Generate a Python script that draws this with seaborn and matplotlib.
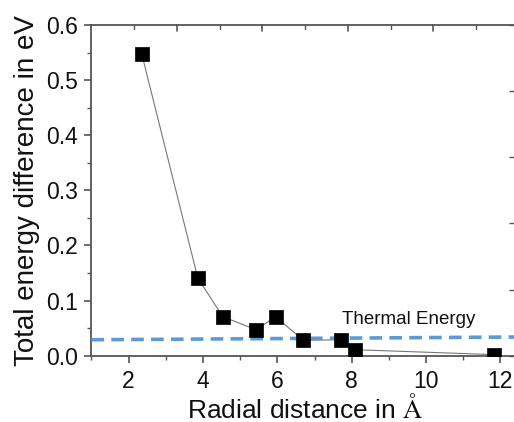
import matplotlib
matplotlib.use("Agg")
import matplotlib.pyplot as plt
import seaborn as sns
import pandas as pd
from matplotlib.ticker import MultipleLocator, NullFormatter

# ---- data ----
radial_distance = [2.35, 3.86, 4.53, 5.43, 5.95, 6.70, 7.70, 8.08, 11.84]
energy_diff = [0.548, 0.141, 0.071, 0.047, 0.071, 0.028, 0.029, 0.011, 0.002]
thermal_x = [1.0, 12.5]
thermal_y = [0.029, 0.034]
thermal_label = "Thermal Energy"
x_ticks = [2, 4, 6, 8, 10, 12]
y_ticks = [0.0, 0.1, 0.2, 0.3, 0.4, 0.5, 0.6]
top_major = [2, 4, 6, 8]
top_minor = [1, 3, 5, 7, 9]

df = pd.DataFrame({"r": radial_distance, "e": energy_diff})
thermal_df = pd.DataFrame({"x": thermal_x, "y": thermal_y})

sns.set_style("ticks")
plt.rcParams["font.family"] = ["Liberation Sans", "DejaVu Sans"]
plt.rcParams["mathtext.fontset"] = "stix"

fig = plt.figure(figsize=(5.14, 4.22), dpi=100)
rect = [0.178, 0.157, 1.0097 - 0.178, 0.9408 - 0.157]
ax = fig.add_axes(rect)

spine_color = "#555555"
XMIN, XMAX = 1.0, 12.5
YMIN, YMAX = 0.0, 0.6

sns.lineplot(data=df, x="r", y="e", sort=False, color="#777777", linewidth=0.8, ax=ax, zorder=2)
sns.lineplot(data=thermal_df, x="x", y="y", color="#5B9BD5", linewidth=2.6,
             linestyle=(0, (3.5, 2.0)), ax=ax, zorder=3)
sns.scatterplot(data=df, x="r", y="e", marker="s", s=115, color="black",
                edgecolor="black", linewidth=0.5, ax=ax, zorder=4)

ax.text(7.73, 0.058, thermal_label, fontsize=13.5, color="#111111", va="baseline", ha="left")

ax.set_xlim(XMIN, XMAX)
ax.set_ylim(YMIN, YMAX)
ax.set_xticks(x_ticks)
ax.set_yticks(y_ticks)
ax.set_yticklabels([f"{v:.1f}" for v in y_ticks])
ax.xaxis.set_minor_locator(MultipleLocator(1))
ax.yaxis.set_minor_locator(MultipleLocator(0.05))
ax.tick_params(axis="both", which="major", direction="out", length=5, width=1.2,
               color=spine_color, labelsize=16.5, pad=5, labelcolor="#111111")
ax.tick_params(axis="both", which="minor", direction="out", length=3, width=1.0, color=spine_color)

ax.set_xlabel("Radial distance in $\\mathrm{\\AA}$", fontsize=19, color="#111111", labelpad=1)
ax.set_ylabel("Total energy difference in eV", fontsize=20, color="#111111", labelpad=4)

for sp in ax.spines.values():
    sp.set_color(spine_color)
    sp.set_linewidth(1.3)

# top decorative ticks (inward), on a 0-10 scale spanning the top frame
def top_to_data(t):
    return XMIN + t / 10.0 * (XMAX - XMIN)

for t in top_major:
    ax.axvline(top_to_data(t), ymin=1 - 0.019, ymax=1.0, color=spine_color,
               linewidth=1.2, clip_on=False, zorder=5)
for t in top_minor:
    ax.axvline(top_to_data(t), ymin=1 - 0.011, ymax=1.0, color=spine_color,
               linewidth=1.0, clip_on=False, zorder=5)

# right decorative axis
right = ax.secondary_yaxis(
    "right",
    functions=(lambda y: (y - YMIN) / (YMAX - YMIN) * 5.0,
               lambda t: YMIN + t / 5.0 * (YMAX - YMIN)))
right.yaxis.set_ticks_position("right")
right.yaxis.set_major_locator(MultipleLocator(1))
right.yaxis.set_major_formatter(NullFormatter())
right.tick_params(axis="y", which="major", right=True, left=False, labelright=False,
                  direction="in", length=7, width=1.0, color=spine_color)
for sp in right.spines.values():
    sp.set_color(spine_color)
    sp.set_linewidth(1.3)

fig.savefig("out.png", dpi=100)
